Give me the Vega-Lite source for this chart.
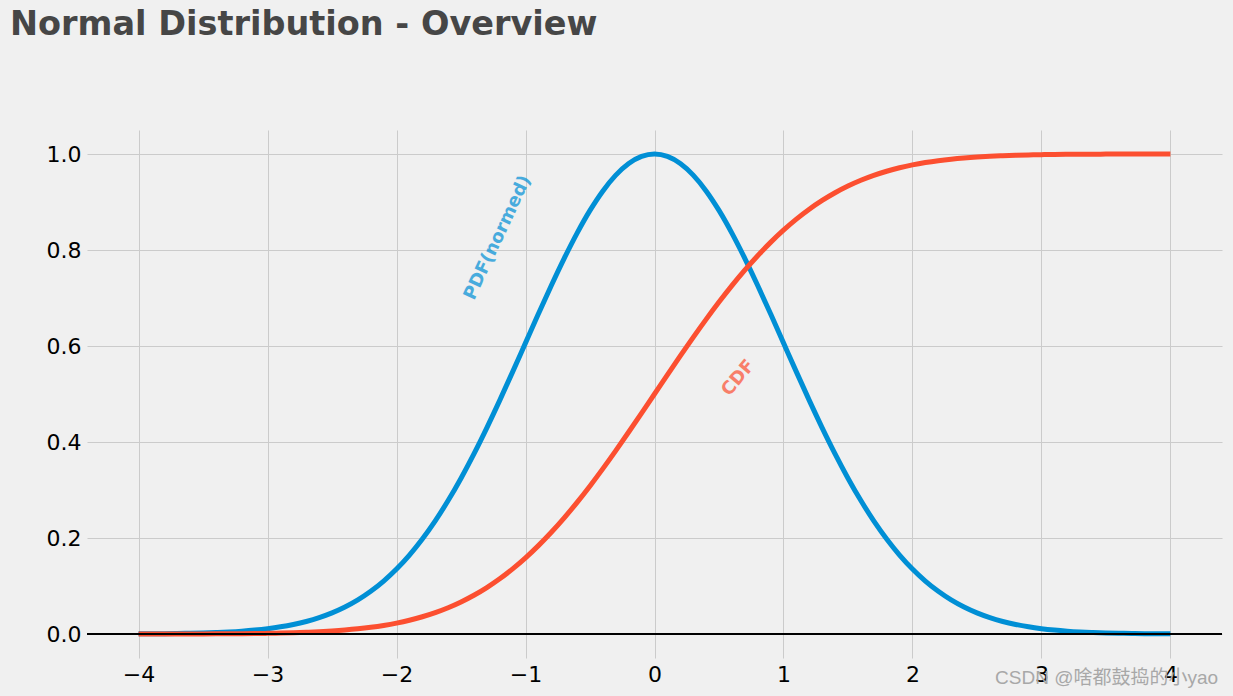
{
  "$schema": "https://vega.github.io/schema/vega-lite/v6.json",
  "autosize": {"type": "none"},
  "padding": {"left": 87, "top": 130, "right": 11, "bottom": 38},
  "width": 1135,
  "height": 528,
  "background": "#f0f0f0",
  "title": {
    "text": "Normal Distribution - Overview",
    "anchor": "start",
    "frame": "group",
    "font": "DejaVu Sans",
    "fontSize": 33.5,
    "fontWeight": "bold",
    "color": "#464646",
    "baseline": "alphabetic",
    "offset": 62,
    "dx": -77
  },
  "config": {
    "view": {"stroke": null},
    "axis": {
      "grid": true,
      "gridColor": "#cbcbcb",
      "gridWidth": 1,
      "domain": false,
      "ticks": false,
      "labelFont": "DejaVu Sans",
      "labelFontSize": 22,
      "labelColor": "#000000",
      "title": null
    }
  },
  "datasets": {
    "curves": [
      {"x": -4.0, "pdf": 0.00034, "cdf": 0.00003},
      {"x": -3.9, "pdf": 0.00050, "cdf": 0.00005},
      {"x": -3.8, "pdf": 0.00073, "cdf": 0.00007},
      {"x": -3.7, "pdf": 0.00106, "cdf": 0.00011},
      {"x": -3.6, "pdf": 0.00153, "cdf": 0.00016},
      {"x": -3.5, "pdf": 0.00219, "cdf": 0.00023},
      {"x": -3.4, "pdf": 0.00309, "cdf": 0.00034},
      {"x": -3.3, "pdf": 0.00432, "cdf": 0.00048},
      {"x": -3.2, "pdf": 0.00598, "cdf": 0.00069},
      {"x": -3.1, "pdf": 0.00819, "cdf": 0.00097},
      {"x": -3.0, "pdf": 0.01111, "cdf": 0.00135},
      {"x": -2.9, "pdf": 0.01492, "cdf": 0.00187},
      {"x": -2.8, "pdf": 0.01984, "cdf": 0.00256},
      {"x": -2.7, "pdf": 0.02612, "cdf": 0.00347},
      {"x": -2.6, "pdf": 0.03405, "cdf": 0.00466},
      {"x": -2.5, "pdf": 0.04394, "cdf": 0.00621},
      {"x": -2.4, "pdf": 0.05613, "cdf": 0.00820},
      {"x": -2.3, "pdf": 0.07101, "cdf": 0.01072},
      {"x": -2.2, "pdf": 0.08892, "cdf": 0.01390},
      {"x": -2.1, "pdf": 0.11025, "cdf": 0.01786},
      {"x": -2.0, "pdf": 0.13534, "cdf": 0.02275},
      {"x": -1.9, "pdf": 0.16447, "cdf": 0.02872},
      {"x": -1.8, "pdf": 0.19790, "cdf": 0.03593},
      {"x": -1.7, "pdf": 0.23575, "cdf": 0.04457},
      {"x": -1.6, "pdf": 0.27804, "cdf": 0.05480},
      {"x": -1.5, "pdf": 0.32465, "cdf": 0.06681},
      {"x": -1.4, "pdf": 0.37531, "cdf": 0.08076},
      {"x": -1.3, "pdf": 0.42956, "cdf": 0.09680},
      {"x": -1.2, "pdf": 0.48675, "cdf": 0.11507},
      {"x": -1.1, "pdf": 0.54607, "cdf": 0.13567},
      {"x": -1.0, "pdf": 0.60653, "cdf": 0.15866},
      {"x": -0.9, "pdf": 0.66698, "cdf": 0.18406},
      {"x": -0.8, "pdf": 0.72615, "cdf": 0.21186},
      {"x": -0.7, "pdf": 0.78270, "cdf": 0.24196},
      {"x": -0.6, "pdf": 0.83527, "cdf": 0.27425},
      {"x": -0.5, "pdf": 0.88250, "cdf": 0.30854},
      {"x": -0.4, "pdf": 0.92312, "cdf": 0.34458},
      {"x": -0.3, "pdf": 0.95600, "cdf": 0.38209},
      {"x": -0.2, "pdf": 0.98020, "cdf": 0.42074},
      {"x": -0.1, "pdf": 0.99501, "cdf": 0.46017},
      {"x": 0.0, "pdf": 1.00000, "cdf": 0.50000},
      {"x": 0.1, "pdf": 0.99501, "cdf": 0.53983},
      {"x": 0.2, "pdf": 0.98020, "cdf": 0.57926},
      {"x": 0.3, "pdf": 0.95600, "cdf": 0.61791},
      {"x": 0.4, "pdf": 0.92312, "cdf": 0.65542},
      {"x": 0.5, "pdf": 0.88250, "cdf": 0.69146},
      {"x": 0.6, "pdf": 0.83527, "cdf": 0.72575},
      {"x": 0.7, "pdf": 0.78270, "cdf": 0.75804},
      {"x": 0.8, "pdf": 0.72615, "cdf": 0.78814},
      {"x": 0.9, "pdf": 0.66698, "cdf": 0.81594},
      {"x": 1.0, "pdf": 0.60653, "cdf": 0.84134},
      {"x": 1.1, "pdf": 0.54607, "cdf": 0.86433},
      {"x": 1.2, "pdf": 0.48675, "cdf": 0.88493},
      {"x": 1.3, "pdf": 0.42956, "cdf": 0.90320},
      {"x": 1.4, "pdf": 0.37531, "cdf": 0.91924},
      {"x": 1.5, "pdf": 0.32465, "cdf": 0.93319},
      {"x": 1.6, "pdf": 0.27804, "cdf": 0.94520},
      {"x": 1.7, "pdf": 0.23575, "cdf": 0.95543},
      {"x": 1.8, "pdf": 0.19790, "cdf": 0.96407},
      {"x": 1.9, "pdf": 0.16447, "cdf": 0.97128},
      {"x": 2.0, "pdf": 0.13534, "cdf": 0.97725},
      {"x": 2.1, "pdf": 0.11025, "cdf": 0.98214},
      {"x": 2.2, "pdf": 0.08892, "cdf": 0.98610},
      {"x": 2.3, "pdf": 0.07101, "cdf": 0.98928},
      {"x": 2.4, "pdf": 0.05613, "cdf": 0.99180},
      {"x": 2.5, "pdf": 0.04394, "cdf": 0.99379},
      {"x": 2.6, "pdf": 0.03405, "cdf": 0.99534},
      {"x": 2.7, "pdf": 0.02612, "cdf": 0.99653},
      {"x": 2.8, "pdf": 0.01984, "cdf": 0.99744},
      {"x": 2.9, "pdf": 0.01492, "cdf": 0.99813},
      {"x": 3.0, "pdf": 0.01111, "cdf": 0.99865},
      {"x": 3.1, "pdf": 0.00819, "cdf": 0.99903},
      {"x": 3.2, "pdf": 0.00598, "cdf": 0.99931},
      {"x": 3.3, "pdf": 0.00432, "cdf": 0.99952},
      {"x": 3.4, "pdf": 0.00309, "cdf": 0.99966},
      {"x": 3.5, "pdf": 0.00219, "cdf": 0.99977},
      {"x": 3.6, "pdf": 0.00153, "cdf": 0.99984},
      {"x": 3.7, "pdf": 0.00106, "cdf": 0.99989},
      {"x": 3.8, "pdf": 0.00073, "cdf": 0.99993},
      {"x": 3.9, "pdf": 0.00050, "cdf": 0.99995},
      {"x": 4.0, "pdf": 0.00034, "cdf": 0.99997}
    ],
    "labels": [
      {"x": -1.40, "y": 0.694, "label": "PDF(normed)", "series": "pdf"},
      {"x": 0.58, "y": 0.494, "label": "CDF", "series": "cdf"}
    ],
    "baseline": [{"y": 0}],
    "watermark": [{"x": 4.37, "y": -0.104, "text": "CSDN @啥都鼓捣的小yao"}]
  },
  "layer": [
    {
      "data": {"name": "curves"},
      "mark": {"type": "line", "color": "#008fd5", "strokeWidth": 5, "interpolate": "monotone"},
      "encoding": {
        "x": {"field": "x", "type": "quantitative",
              "scale": {"domain": [-4.4, 4.4], "nice": false, "zero": false},
              "axis": {"values": [-4, -3, -2, -1, 0, 1, 2, 3, 4],
                       "labelExpr": "datum.value < 0 ? '\u2212' + abs(datum.value) : '' + datum.value",
                       "labelPadding": 6}},
        "y": {"field": "pdf", "type": "quantitative",
              "scale": {"domain": [-0.05, 1.05], "nice": false, "zero": false},
              "axis": {"values": [0, 0.2, 0.4, 0.6, 0.8, 1.0], "format": ".1f", "labelPadding": 6}}
      }
    },
    {
      "data": {"name": "curves"},
      "mark": {"type": "line", "color": "#fc4f30", "strokeWidth": 5, "interpolate": "monotone"},
      "encoding": {
        "x": {"field": "x", "type": "quantitative"},
        "y": {"field": "cdf", "type": "quantitative"}
      }
    },
    {
      "data": {"name": "baseline"},
      "mark": {"type": "rule", "color": "#000000", "strokeWidth": 2},
      "encoding": {"y": {"field": "y", "type": "quantitative"}}
    },
    {
      "data": {"name": "labels"},
      "transform": [{"filter": "datum.series == 'pdf'"}],
      "mark": {"type": "text", "font": "DejaVu Sans", "fontWeight": "bold", "fontSize": 18,
               "color": "#008fd5", "opacity": 0.7, "angle": 295, "align": "left", "baseline": "alphabetic"},
      "encoding": {
        "x": {"field": "x", "type": "quantitative"},
        "y": {"field": "y", "type": "quantitative"},
        "text": {"field": "label"}
      }
    },
    {
      "data": {"name": "labels"},
      "transform": [{"filter": "datum.series == 'cdf'"}],
      "mark": {"type": "text", "font": "DejaVu Sans", "fontWeight": "bold", "fontSize": 18,
               "color": "#fc4f30", "opacity": 0.7, "angle": 310, "align": "left", "baseline": "alphabetic"},
      "encoding": {
        "x": {"field": "x", "type": "quantitative"},
        "y": {"field": "y", "type": "quantitative"},
        "text": {"field": "label"}
      }
    },
    {
      "data": {"name": "watermark"},
      "mark": {"type": "text", "font": "Liberation Sans, Noto Sans CJK SC", "fontSize": 19, "color": "#a8a8a8",
               "align": "right", "baseline": "alphabetic", "clip": false},
      "encoding": {
        "x": {"field": "x", "type": "quantitative"},
        "y": {"field": "y", "type": "quantitative"},
        "text": {"field": "text"}
      }
    }
  ]
}
